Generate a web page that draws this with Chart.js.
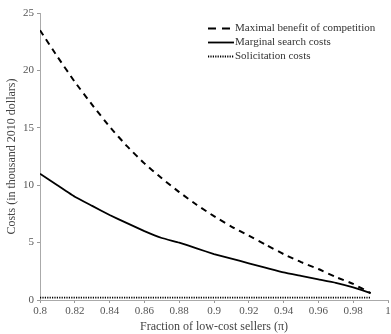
<!DOCTYPE html>
<html>
<head>
<meta charset="utf-8">
<script src="https://cdn.jsdelivr.net/npm/chart.js@4/dist/chart.umd.min.js"></script>
<style>
    html, body { margin: 0; padding: 0; background: #fff; }
    #wrap { width: 391px; height: 334px; }
</style>
</head>
<body>
<div id="wrap"><canvas id="chart1"></canvas></div>
<script>
// fraction of low-cost sellers
let fractionArray = [0.80, 0.81, 0.82, 0.83, 0.84, 0.85, 0.86, 0.87, 0.88, 0.89,
                     0.90, 0.91, 0.92, 0.93, 0.94, 0.95, 0.96, 0.97, 0.98, 0.99]
let benefitArray = [23.5, 21.2, 19.0, 17.0, 15.1, 13.4, 11.9, 10.6, 9.4, 8.3,
                    7.3, 6.4, 5.6, 4.8, 4.0, 3.3, 2.7, 2.0, 1.4, 0.6]
let searchArray = [11.0, 10.0, 9.0, 8.2, 7.4, 6.7, 6.0, 5.4, 5.0, 4.5,
                   4.0, 3.6, 3.2, 2.8, 2.4, 2.1, 1.8, 1.5, 1.1, 0.6]
let solicitArray = [0.2, 0.2, 0.2, 0.2, 0.2, 0.2, 0.2, 0.2, 0.2, 0.2,
                    0.2, 0.2, 0.2, 0.2, 0.2, 0.2, 0.2, 0.2, 0.2, 0.2]
let seriesLabels = ['Maximal benefit of competition', 'Marginal search costs', 'Solicitation costs']
let xTicks = [0.8, 0.82, 0.84, 0.86, 0.88, 0.9, 0.92, 0.94, 0.96, 0.98, 1]
let yTicks = [0, 5, 10, 15, 20, 25]

const serif = 'Liberation Serif, DejaVu Serif, serif'

function toPoints(values) {
    return fractionArray.map((x, i) => ({ x: x, y: values[i] }))
}

// legend drawn inside the plot, top right
const innerLegend = {
    id: 'innerLegend',
    afterDraw(chart) {
        const ctx = chart.ctx
        ctx.save()
        ctx.font = '11px ' + serif
        ctx.textBaseline = 'middle'
        chart.data.datasets.forEach((ds, i) => {
            const y = 28.5 + i * 14
            ctx.strokeStyle = '#000'
            ctx.lineWidth = ds.borderWidth
            ctx.setLineDash(ds.legendDash || ds.borderDash || [])
            ctx.beginPath()
            ctx.moveTo(208, y)
            ctx.lineTo(234, y)
            ctx.stroke()
            ctx.setLineDash([])
            ctx.fillStyle = '#333'
            ctx.fillText(ds.label, 235, y)
        })
        ctx.restore()
    }
}

function renderChart1() {
    const ctx = document.querySelector('#chart1').getContext('2d')
    const chart1 = new Chart(ctx, {
        type: 'line',
        data: {
            datasets: [{
                label: seriesLabels[0],
                data: toPoints(benefitArray),
                borderColor: '#000',
                borderWidth: 2,
                borderDash: [6, 5],
                legendDash: [8, 6],
                pointRadius: 0,
                tension: 0.15
            }, {
                label: seriesLabels[1],
                data: toPoints(searchArray),
                borderColor: '#000',
                borderWidth: 1.8,
                pointRadius: 0,
                tension: 0.1
            }, {
                label: seriesLabels[2],
                data: toPoints(solicitArray),
                borderColor: '#000',
                borderWidth: 1.8,
                borderDash: [1.2, 1.2],
                pointRadius: 0
            }]
        },
        options: {
            responsive: true,
            maintainAspectRatio: false,
            animation: false,
            layout: {
                padding: { top: 13, right: 3, left: 0, bottom: 0 }
            },
            scales: {
                x: {
                    type: 'linear',
                    min: 0.8,
                    max: 1,
                    afterBuildTicks(scale) {
                        scale.ticks = xTicks.map(v => ({ value: v }))
                    },
                    afterFit(scale) {
                        scale.height = 34
                        scale.paddingRight = 0
                        scale.paddingLeft = 0
                    },
                    grid: {
                        display: true,
                        drawOnChartArea: false,
                        tickLength: 3,
                        color: '#999'
                    },
                    border: { color: '#aaa' },
                    ticks: {
                        color: '#555',
                        padding: 2,
                        maxRotation: 0,
                        font: { family: serif, size: 11 },
                        callback: v => String(v)
                    },
                    title: {
                        display: true,
                        text: 'Fraction of low-cost sellers (\u03c0)',
                        color: '#444',
                        padding: { top: 0, bottom: 0 },
                        font: { family: serif, size: 12 }
                    }
                },
                y: {
                    min: 0,
                    max: 25,
                    afterBuildTicks(scale) {
                        scale.ticks = yTicks.map(v => ({ value: v }))
                    },
                    afterFit(scale) {
                        scale.width = 40
                        scale.paddingTop = 0
                        scale.paddingBottom = 0
                    },
                    grid: {
                        display: true,
                        drawOnChartArea: false,
                        tickLength: 3,
                        color: '#999'
                    },
                    border: { color: '#aaa' },
                    ticks: {
                        color: '#555',
                        padding: 3,
                        font: { family: serif, size: 11 }
                    },
                    title: {
                        display: true,
                        text: 'Costs (in thousand 2010 dollars)',
                        color: '#444',
                        padding: { top: 5, bottom: 0 },
                        font: { family: serif, size: 12 }
                    }
                }
            },
            plugins: {
                legend: { display: false },
                tooltip: { enabled: false }
            }
        },
        plugins: [innerLegend]
    })
}

renderChart1()
</script>
</body>
</html>
